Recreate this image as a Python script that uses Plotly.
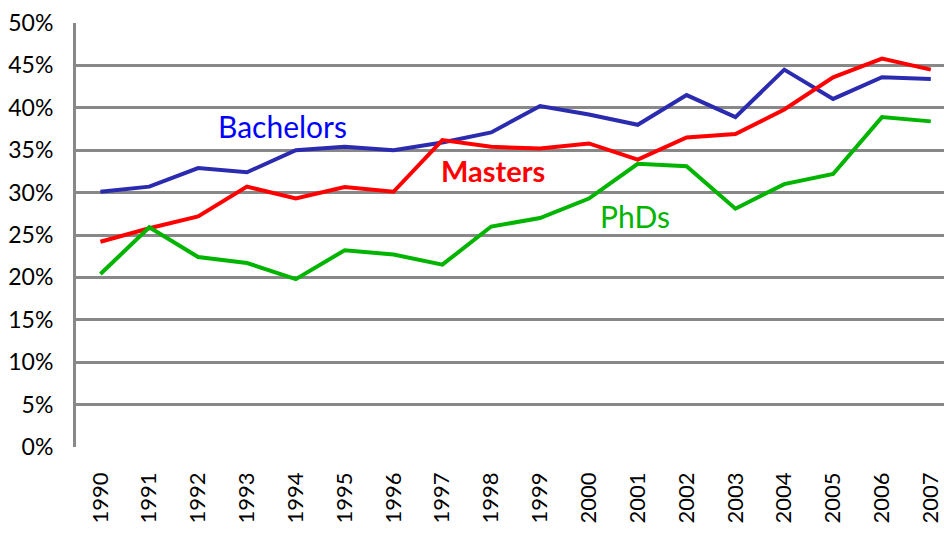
import plotly.graph_objects as go

years = [str(y) for y in range(1990, 2008)]
bachelors = [30.1, 30.7, 32.9, 32.4, 35.0, 35.4, 35.0, 35.9, 37.1, 40.2, 39.2, 38.0, 41.5, 38.9, 44.5, 41.05, 43.6, 43.4]
masters = [24.2, 25.8, 27.2, 30.7, 29.3, 30.65, 30.1, 36.2, 35.4, 35.2, 35.8, 33.9, 36.5, 36.9, 39.8, 43.6, 45.8, 44.5]
phds = [20.4, 25.9, 22.4, 21.7, 19.8, 23.2, 22.7, 21.5, 26.0, 27.0, 29.3, 33.4, 33.1, 28.1, 31.0, 32.2, 38.9, 38.4]
y_ticks = [0, 5, 10, 15, 20, 25, 30, 35, 40, 45, 50]
y_labels = [f"{v}%" for v in y_ticks]

FONT = "Lato"
fig = go.Figure()
series = [("Bachelors", bachelors, "#2b2bb0"), ("Masters", masters, "#ff0000"), ("PhDs", phds, "#00b400")]
for name, vals, col in series:
    fig.add_trace(go.Scatter(x=list(range(len(years))), y=vals, mode="lines", name=name,
                             line=dict(color=col, width=4), showlegend=False))

fig.add_annotation(x=3.72, y=37.9, text="Bachelors", showarrow=False,
                   font=dict(family=FONT, size=30, color="#0000ff"))
fig.add_annotation(x=8.04, y=32.6, text="<b>Masters</b>", showarrow=False,
                   font=dict(family=FONT, size=29, color="#ff0000"))
fig.add_annotation(x=10.94, y=27.2, text="PhDs", showarrow=False,
                   font=dict(family=FONT, size=30, color="#00b400"))

fig.update_layout(
    width=944, height=534,
    margin=dict(l=76, r=0, t=23, b=87),
    paper_bgcolor="white", plot_bgcolor="white",
    font=dict(family=FONT, size=22, color="black"),
    hovermode=False,
    xaxis=dict(range=[-0.5, 17.27], tickmode="array", tickvals=list(range(len(years))),
               ticktext=years, tickangle=-90, showgrid=False, zeroline=False,
               showline=False, ticks="", tickfont=dict(size=22), automargin=False,
               ticklabelstandoff=20),
    yaxis=dict(range=[0, 50], tickmode="array", tickvals=y_ticks, ticktext=y_labels,
               showgrid=True, gridcolor="#888888", gridwidth=3, zeroline=False,
               showline=True, linecolor="#888888", linewidth=3, ticks="",
               ticklabelstandoff=15, tickfont=dict(size=23), automargin=False),
)
fig.write_html("out.html", config={"displayModeBar": False},
               post_script="document.body.style.margin='0';")
